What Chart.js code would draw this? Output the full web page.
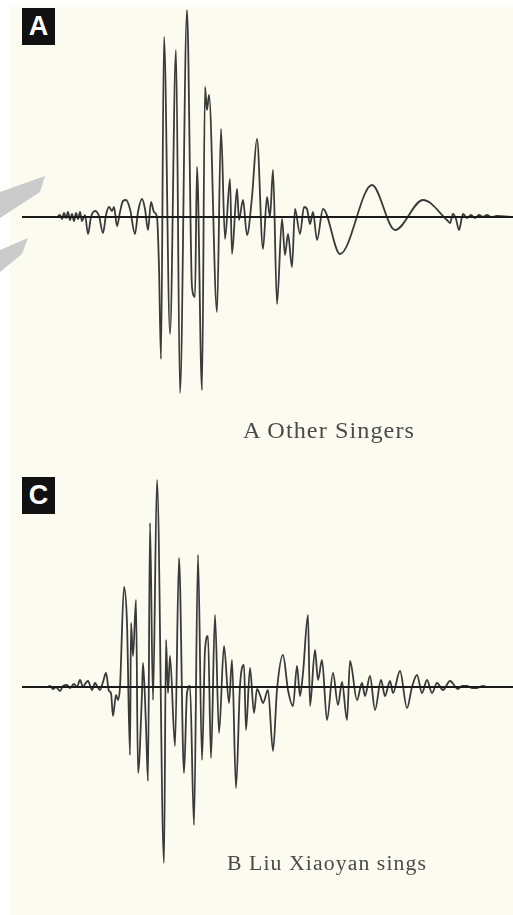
<!DOCTYPE html>
<html>
<head>
<meta charset="utf-8">
<script src="https://cdn.jsdelivr.net/npm/chart.js@4/dist/chart.umd.min.js"></script>
<style>
  html, body { margin: 0; padding: 0; background: #ffffff; }
  #page { position: relative; width: 513px; height: 915px; overflow: hidden; }
  #paper { position: absolute; left: 10px; top: 7px; right: 0; bottom: 0; background: #fbfbf0; }
  canvas { position: absolute; left: 0; }
  #chartA { top: 0; }
  #chartC { top: 460px; }
  .tag {
    position: absolute; left: 22px; width: 33px; height: 37px;
    background: #111; color: #fff; font: bold 27px "Liberation Sans", Arial, sans-serif;
    text-align: center; line-height: 37px;
  }
  .caption {
    position: absolute; font-family: "Liberation Serif", "Times New Roman", serif;
    color: #4a4a4a; white-space: pre; transform-origin: left top; letter-spacing: 1px;
  }
</style>
</head>
<body>
<div id="page">
  <div id="paper"></div>
  <canvas id="chartA" width="513" height="434"></canvas>
  <canvas id="chartC" width="513" height="454"></canvas>
  <div class="tag" style="top:8px">A</div>
  <div class="tag" style="top:477px">C</div>
  <div class="caption" data-fit="172" style="left:243px; top:419px; font-size:23px; line-height:23px">A Other Singers</div>
  <div class="caption" data-fit="200" style="left:227px; top:853px; font-size:20px; line-height:20px">B Liu Xiaoyan sings</div>
</div>
<script>
// waveform A (other singers): time position and amplitude
const timeA = [22, 57, 60, 62, 64, 66, 68, 70, 72, 74, 76, 78, 80, 82, 85, 88, 91, 95, 99, 103,
  106, 109, 112, 114, 117, 120, 123, 126, 130, 135, 138, 142, 145, 148, 151, 154, 157, 159, 161, 164,
  170, 176, 180, 187, 192, 195, 197, 202, 205, 207, 209, 217, 221, 225, 230, 232, 237, 239, 243, 247,
  252, 257, 263, 267, 270, 273, 277, 282, 285, 288, 292, 295, 300, 304, 307, 310, 313, 317, 323, 340,
  372, 395, 423, 447, 450, 453, 456, 459, 463, 467, 471, 475, 479, 483, 487, 491, 497, 513];
const ampA = [0, 0, 2, -2, 4, -1, 5, -3, 3, -4, 4, -2, 5, -4, 2, -17, 0, 6, 1, -16,
  2, 10, 6, 10, -9, 5, 16, 17, 8, -17, 5, 18, 8, -13, 15, 5, 0, -50, -142, 180,
  -117, 167, -176, 207, -70, -80, 50, -173, 130, 107, 122, -95, 88, -22, 38, -37, 28, -3, 17, -18,
  20, 78, -32, 20, 0, 47, -87, -2, -38, -17, -50, 8, -17, 10, 8, -7, 5, -23, 8, -37,
  32, -13, 17, -3, -6, 3, -2, -13, 3, -1, 2, -1, 2, 0, 2, 0, 1, 0];

// waveform C (Liu Xiaoyan)
const timeC = [22, 47, 50, 53, 56, 60, 63, 67, 70, 74, 77, 80, 83, 85, 88, 92, 95, 97, 100, 103,
  106, 109, 111, 113, 116, 118, 120, 124, 127, 130, 131, 133, 136, 138, 142, 143, 146, 148, 150, 153,
  157, 164, 166, 168, 170, 175, 179, 184, 187, 190, 194, 198, 202, 205, 208, 211, 215, 219, 224, 229,
  232, 236, 240, 244, 246, 250, 254, 257, 260, 263, 268, 273, 277, 283, 288, 293, 297, 300, 303, 308,
  310, 315, 318, 322, 327, 333, 338, 342, 347, 350, 357, 362, 365, 370, 375, 381, 385, 390, 393, 400,
  407, 412, 417, 422, 427, 432, 437, 443, 450, 458, 462, 467, 472, 477, 483, 488, 493, 513];
const ampC = [0, 0, 1, -2, 0, -4, 1, 2, -1, 3, 0, 7, 0, 3, 6, -3, 4, 1, -3, 5,
  14, -4, -6, -29, -8, -13, 0, 100, 64, -68, 64, 31, 87, -86, -6, 24, -39, -94, 164, -13,
  207, -176, 47, -6, 31, -59, 129, -86, -6, 1, -138, 132, -73, 37, 51, -71, 72, -46, 41, -16,
  27, -101, 1, 22, -43, 19, -26, -2, -8, -16, -3, -64, -3, 32, -3, -19, 21, -9, 14, 72,
  -19, 37, 7, 27, -33, 14, -18, 5, -33, 26, -13, 4, -9, 11, -23, 7, -9, 6, -6, 16,
  -21, 0, 12, -6, 7, -6, 4, -3, 6, -2, 1, 1, -1, -1, 1, 0, 0, 0];

// zero line extent
const axisStart = 22;
const axisEnd = 513;

function toPoints(xs, ys) {
  return xs.map(function (x, i) { return { x: x, y: ys[i] }; });
}

// grey smudges at the left edge of the scan
const watermark = {
  id: 'watermark',
  beforeDatasetsDraw(chart) {
    if (!chart.options.plugins.watermark.show) {
      return;
    }
    const ctx = chart.ctx;
    ctx.save();
    ctx.fillStyle = '#cbcbcb';
    ctx.beginPath();
    ctx.moveTo(0, 192); ctx.lineTo(45, 176); ctx.lineTo(40, 192); ctx.lineTo(0, 218);
    ctx.closePath();
    ctx.fill();
    ctx.beginPath();
    ctx.moveTo(0, 250); ctx.lineTo(28, 238); ctx.lineTo(22, 254); ctx.lineTo(0, 272);
    ctx.closePath();
    ctx.fill();
    ctx.restore();
  }
};

function makeWave(canvasId, xs, ys, half, showMark) {
  new Chart(document.getElementById(canvasId), {
    type: 'scatter',
    data: {
      datasets: [
        {
          label: 'zero',
          data: [{ x: axisStart, y: 0 }, { x: axisEnd, y: 0 }],
          showLine: true,
          borderColor: '#1a1a1a',
          borderWidth: 2,
          pointRadius: 0,
        },
        {
          label: 'wave',
          data: toPoints(xs, ys),
          showLine: true,
          borderColor: '#3a3a3a',
          borderWidth: 1.8,
          pointRadius: 0,
          cubicInterpolationMode: 'monotone',
        },
      ]
    },
    options: {
      responsive: false,
      animation: false,
      events: [],
      layout: { padding: 0 },
      plugins: {
        legend: { display: false },
        tooltip: { enabled: false },
        watermark: { show: showMark },
      },
      scales: {
        x: { type: 'linear', display: false, min: 0, max: 513 },
        y: { type: 'linear', display: false, min: -half, max: half },
      }
    },
    plugins: [watermark]
  });
}

makeWave('chartA', timeA, ampA, 217, true);
makeWave('chartC', timeC, ampC, 227, false);

// stretch captions to the width they take in the scan
document.querySelectorAll('.caption').forEach(function (el) {
  const w = el.getBoundingClientRect().width;
  el.style.transform = 'scaleX(' + (Number(el.dataset.fit) / w) + ')';
});
</script>
</body>
</html>
